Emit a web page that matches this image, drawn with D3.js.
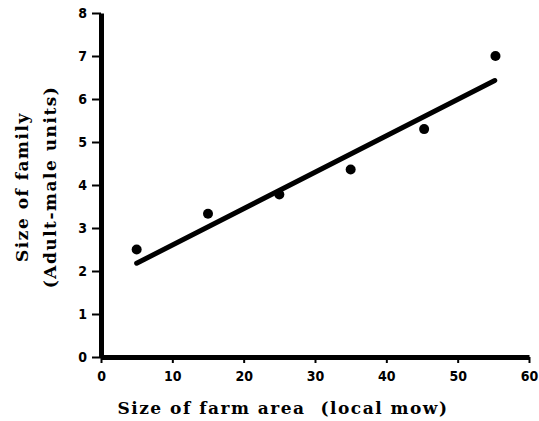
<!DOCTYPE html>
<html><head><meta charset="utf-8">
<script src="https://cdn.jsdelivr.net/npm/d3@7"></script>
<style>body{margin:0;background:#fff}svg{display:block}</style>
</head><body>
<svg id="c" width="539" height="421"></svg>
<script>
const farmArea = [5, 15, 25, 35, 45.3, 55.3];
const familySize = [2.5, 3.33, 3.78, 4.36, 5.3, 7.0];
const fitX = [5, 55.2];
const fitY = [2.18, 6.43];
const xTicks = [0, 10, 20, 30, 40, 50, 60];
const yTicks = [0, 1, 2, 3, 4, 5, 6, 7, 8];
const xTitle = "Size of farm area  (local mow)";
const yTitle1 = "Size of family";
const yTitle2 = "(Adult-male units)";

const svg = d3.select("#c");
const x = d3.scaleLinear().domain([0, 60]).range([101, 529]);
const y = d3.scaleLinear().domain([0, 8]).range([357, 13]);

const tickFont = "'DejaVu Sans Condensed','DejaVu Sans',sans-serif";
const titleFont = "'DejaVu Serif',serif";

const xa = svg.append("g").attr("transform", `translate(0,${y(0)})`)
  .call(d3.axisBottom(x).tickValues(xTicks).tickSize(6).tickPadding(8).tickSizeOuter(0));
const ya = svg.append("g").attr("transform", `translate(${x(0)},0)`)
  .call(d3.axisLeft(y).tickValues(yTicks).tickSize(9).tickPadding(5).tickSizeOuter(0));
[xa, ya].forEach(a => {
  a.select(".domain").attr("stroke", "#000").attr("stroke-width", 5);
  a.selectAll(".tick line").attr("stroke", "#000").attr("stroke-width", 2);
  a.selectAll(".tick text").attr("fill", "#000").attr("font-family", tickFont)
    .attr("font-weight", "bold").attr("font-size", 14);
});

svg.append("line")
  .attr("x1", x(fitX[0])).attr("y1", y(fitY[0]))
  .attr("x2", x(fitX[1])).attr("y2", y(fitY[1]))
  .attr("stroke", "#000").attr("stroke-width", 5).attr("stroke-linecap", "round");

svg.selectAll("circle.pt").data(farmArea).join("circle").attr("class", "pt")
  .attr("cx", (d) => x(d)).attr("cy", (d, i) => y(familySize[i]))
  .attr("r", 5).attr("fill", "#000");

const titleAttrs = (t) => t.attr("text-anchor", "middle").attr("font-family", titleFont)
  .attr("font-weight", "bold").attr("font-size", 17).attr("letter-spacing", 1.5).attr("fill", "#000");
svg.append("text").attr("x", 283).attr("y", 414).style("white-space", "pre").call(titleAttrs).text(xTitle);
svg.append("text").attr("transform", "translate(28,187) rotate(-90)").call(titleAttrs).text(yTitle1);
svg.append("text").attr("transform", "translate(56,187) rotate(-90)").call(titleAttrs).text(yTitle2);
</script>
</body></html>
